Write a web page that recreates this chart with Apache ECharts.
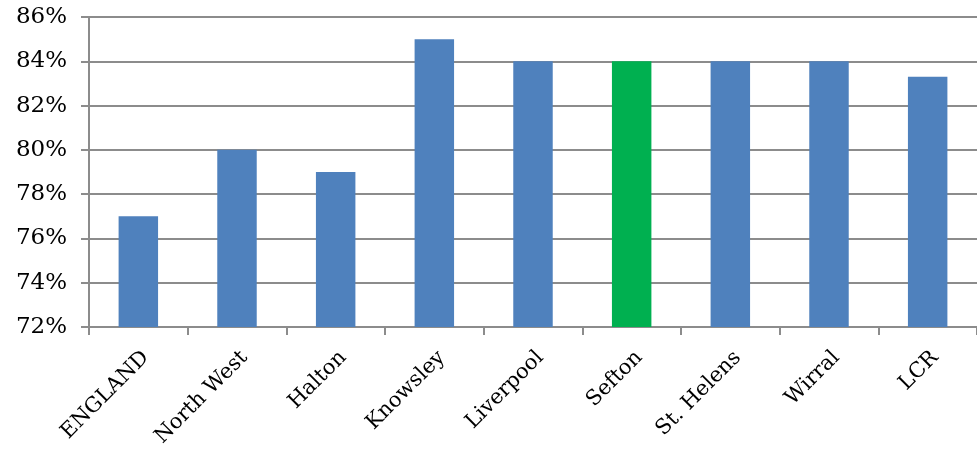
<!DOCTYPE html>
<html><head><meta charset="utf-8">
<script src="https://cdn.jsdelivr.net/npm/echarts@6/dist/echarts.min.js"></script>
<style>html,body{margin:0;padding:0;background:#fff}#c{width:977px;height:452px}</style>
</head><body><div id="c"></div>
<script>
const categories = ["ENGLAND","North West","Halton","Knowsley","Liverpool","Sefton","St. Helens","Wirral","LCR"];
const values = [77, 80, 79, 85, 84, 84, 84, 84, 83.3];
const highlight = "Sefton";
const yMin = 72, yMax = 86, yStep = 2;

const chart = echarts.init(document.getElementById('c'));
const font = '"DejaVu Serif", "Liberation Serif", serif';
chart.setOption({
  animation: false,
  grid: {left: 89, right: 0, top: 17, bottom: 125, containLabel: false},
  xAxis: {
    type: 'category', data: categories,
    axisLine: {show: true, lineStyle: {color: '#8c8c8c', width: 2}},
    axisTick: {show: true, length: 8, lineStyle: {color: '#8c8c8c', width: 2}},
    axisLabel: {rotate: 45, interval: 0, margin: 20, verticalAlign: 'top', color: '#000', fontFamily: font, fontSize: 21}
  },
  yAxis: {
    type: 'value', min: yMin, max: yMax, interval: yStep,
    axisLine: {show: true, lineStyle: {color: '#8c8c8c', width: 2}},
    axisTick: {show: true, length: 8, lineStyle: {color: '#8c8c8c', width: 2}},
    splitLine: {show: true, lineStyle: {color: '#8c8c8c', width: 2}},
    axisLabel: {margin: 22, color: '#000', fontFamily: font, fontSize: 23, formatter: v => v + '%'}
  },
  series: [{
    type: 'bar', barWidth: '40%',
    data: values.map((v, i) => ({value: v, itemStyle: {color: categories[i] === highlight ? '#00B050' : '#4F81BD'}}))
  }]
});
</script></body></html>
